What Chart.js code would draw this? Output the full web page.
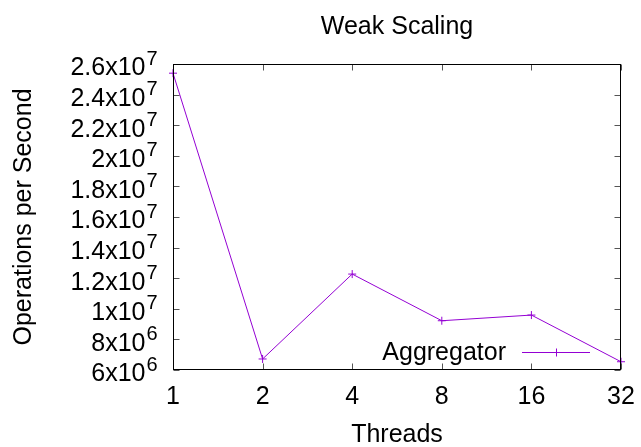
<!DOCTYPE html>
<html>
<head>
<meta charset="utf-8">
<script src="https://cdn.jsdelivr.net/npm/chart.js@4/dist/chart.umd.min.js"></script>
<style>
  html, body { margin: 0; padding: 0; background: #fff; }
  #wrap { width: 641px; height: 447px; position: relative; }
</style>
</head>
<body>
<div id="wrap"><canvas id="c" width="641" height="447"></canvas></div>
<script>
const threads = ['1', '2', '4', '8', '16', '32'];
const aggregator = [25400000, 6720000, 12270000, 9220000, 9590000, 6540000];
const yTickValues = [6e6, 8e6, 1e7, 1.2e7, 1.4e7, 1.6e7, 1.8e7, 2e7, 2.2e7, 2.4e7, 2.6e7];
const yTickMantissas = ['6x10', '8x10', '1x10', '1.2x10', '1.4x10', '1.6x10', '1.8x10', '2x10', '2.2x10', '2.4x10', '2.6x10'];
const yTickExponents = ['6', '6', '7', '7', '7', '7', '7', '7', '7', '7', '7'];
const seriesName = 'Aggregator';
const titleText = 'Weak Scaling';
const xTitle = 'Threads';
const yTitle = 'Operations per Second';

const FONT = '"Liberation Sans", Arial, Helvetica, sans-serif';
const COLOR = '#9400d3';

const framePlugin = {
  id: 'frame',
  afterDraw(chart) {
    const ctx = chart.ctx;
    const a = chart.chartArea;
    const L = Math.round(a.left) + 0.5, R = Math.round(a.right) - 0.5;
    const T = Math.round(a.top) + 0.5, B = Math.round(a.bottom) - 0.5;
    const ys = chart.scales.y, xs = chart.scales.x;
    ctx.save();
    // y tick labels with raised exponents (positions from the y scale)
    ctx.fillStyle = '#000';
    ys.ticks.forEach((t) => {
      const i = yTickValues.indexOf(t.value);
      if (i < 0) return;
      const y = ys.getPixelForValue(t.value);
      const xr = L - 28;
      ctx.font = '25px ' + FONT;
      ctx.textAlign = 'right';
      ctx.textBaseline = 'middle';
      ctx.fillText(yTickMantissas[i], xr, y + 4.5);
      ctx.font = '20px ' + FONT;
      ctx.textAlign = 'left';
      ctx.fillText(yTickExponents[i], xr + 1, y - 5);
    });
    // ticks (inward, mirrored)
    ctx.strokeStyle = '#555';
    ctx.lineWidth = 1;
    const tl = 6;
    ctx.beginPath();
    ys.ticks.forEach((t) => {
      const y = Math.round(ys.getPixelForValue(t.value)) + 0.5;
      ctx.moveTo(L, y); ctx.lineTo(L + tl, y);
      ctx.moveTo(R, y); ctx.lineTo(R - tl, y);
    });
    xs.ticks.forEach((t, i) => {
      const x = Math.round(xs.getPixelForTick(i)) + 0.5;
      ctx.moveTo(x, B); ctx.lineTo(x, B - tl);
      ctx.moveTo(x, T); ctx.lineTo(x, T + tl);
    });
    ctx.stroke();
    // border
    ctx.strokeStyle = '#000';
    ctx.strokeRect(L, T, R - L, B - T);
    // legend
    const ly = Math.round(a.bottom) - 17.5;
    const lx2 = Math.round(a.right) - 31;
    const lx1 = lx2 - 68;
    ctx.font = '25px ' + FONT;
    ctx.fillStyle = '#000';
    ctx.textAlign = 'right';
    ctx.textBaseline = 'middle';
    ctx.fillText(seriesName, lx1 - 16, ly + 1);
    ctx.strokeStyle = COLOR;
    ctx.beginPath();
    ctx.moveTo(lx1, ly); ctx.lineTo(lx2, ly);
    const cx = Math.round((lx1 + lx2) / 2) + 0.5;
    ctx.moveTo(cx, ly - 4); ctx.lineTo(cx, ly + 4);
    ctx.moveTo(cx - 4, ly); ctx.lineTo(cx + 4, ly);
    ctx.stroke();
    ctx.restore();
  }
};

new Chart(document.getElementById('c'), {
  type: 'line',
  data: {
    labels: threads,
    datasets: [{
      label: seriesName,
      data: aggregator,
      borderColor: COLOR,
      backgroundColor: COLOR,
      borderWidth: 1,
      pointStyle: 'cross',
      pointRadius: 4,
      pointBorderWidth: 1,
      pointHoverRadius: 4,
      tension: 0,
      fill: false
    }]
  },
  options: {
    responsive: false,
    animation: false,
    events: [],
    layout: { padding: { left: 0, right: 20, top: 0, bottom: 0 } },
    plugins: {
      legend: { display: false },
      tooltip: { enabled: false },
      title: {
        display: true,
        text: titleText,
        fullSize: false,
        color: '#000',
        font: { family: FONT, size: 25, weight: 'normal' },
        padding: { top: 12, bottom: 22 }
      }
    },
    scales: {
      x: {
        type: 'category',
        offset: false,
        grid: { display: false, drawTicks: false },
        border: { display: false },
        ticks: {
          color: '#000',
          font: { family: FONT, size: 25 },
          padding: 12,
          maxRotation: 0,
          autoSkip: false
        },
        title: {
          display: true,
          text: xTitle,
          color: '#000',
          font: { family: FONT, size: 25 },
          padding: { top: 0, bottom: -3 }
        },
        afterFit(scale) {
          scale.height = 77;
          scale.paddingLeft = 0;
          scale.paddingRight = 0;
        }
      },
      y: {
        type: 'linear',
        min: 6e6,
        max: 2.6e7,
        grid: { display: false, drawTicks: false },
        border: { display: false },
        afterBuildTicks(scale) {
          scale.ticks = yTickValues.map(v => ({ value: v }));
        },
        ticks: { display: false, autoSkip: false },
        title: {
          display: true,
          text: yTitle,
          color: '#000',
          font: { family: FONT, size: 25 },
          padding: { top: 9, bottom: 0 }
        },
        afterFit(scale) {
          scale.width = 173;
          scale.paddingTop = 0;
          scale.paddingBottom = 0;
        }
      }
    }
  },
  plugins: [framePlugin]
});
</script>
</body>
</html>
